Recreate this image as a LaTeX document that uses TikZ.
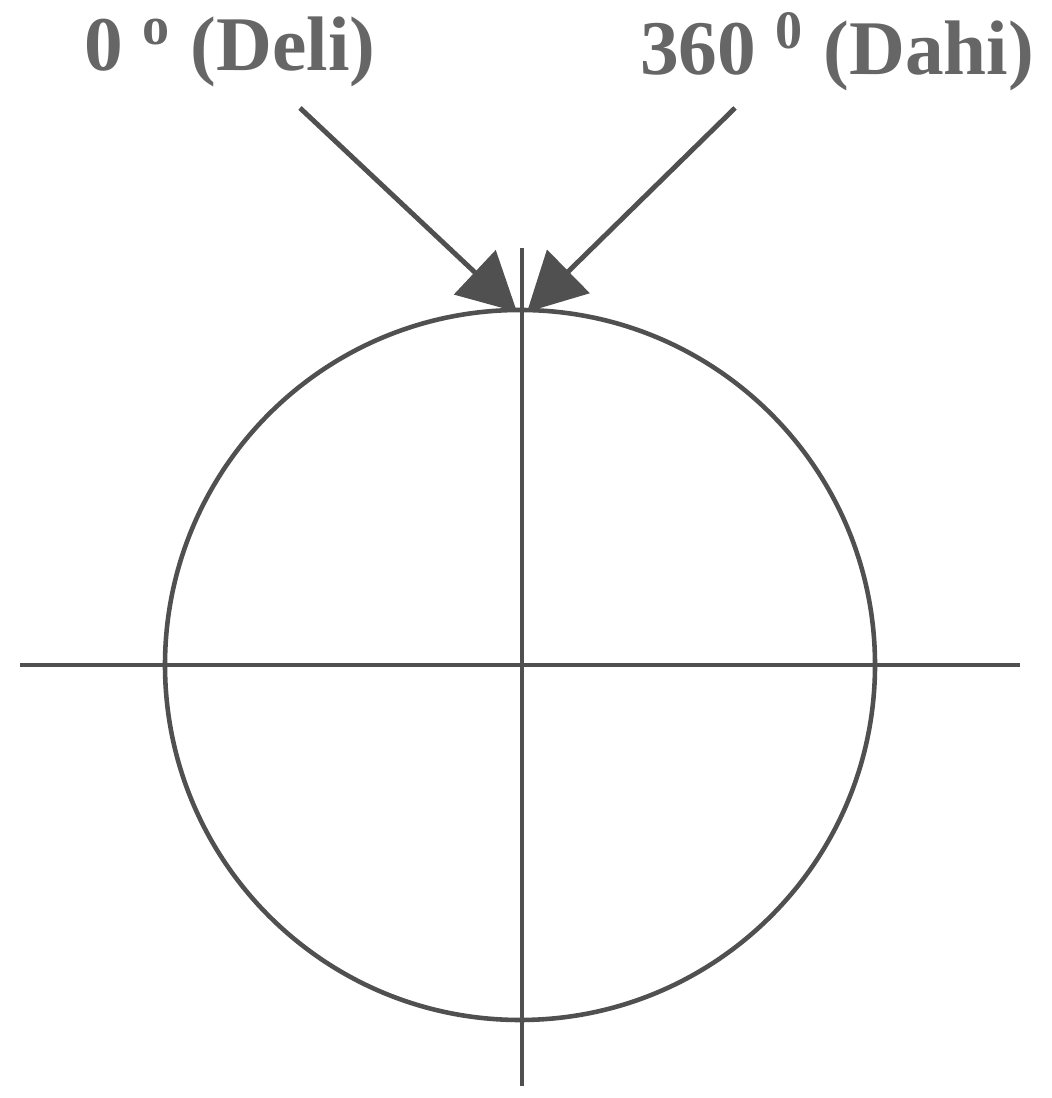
\documentclass[tikz,border=0pt]{standalone}
\usepackage{fontspec}
\setmainfont{Liberation Serif}
\usepackage{tikz}
\usetikzlibrary{arrows.meta, positioning}
\definecolor{inkgray}{HTML}{505050}
\definecolor{textgray}{HTML}{666666}
\tikzstyle{axis} = [line width=1.3pt, draw=inkgray]
\tikzstyle{label} = [font=\fontsize{22}{26}\selectfont\bfseries, text=textgray, inner sep=0pt]
\tikzstyle{arrow} = [line width=1.4pt, draw=inkgray, fill=inkgray, -{Triangle[length=5.8mm, width=6mm]}]

\begin{document}
\begin{tikzpicture}
\useasboundingbox (0,0) rectangle (10.51,10.98);

\coordinate (center) at (5.20,4.33);

% circle and axes
\draw [axis] (center) circle (3.55);
\coordinate (west) at (0.20,4.33);
\coordinate (east) at (10.20,4.33);
\coordinate (north) at (5.22,8.50);
\coordinate (south) at (5.22,0.12);
\draw [axis] (west) -- (east);
\draw [axis] (north) -- (south);

% labels
\node (deli) [label] at (2.30,10.46) {0 \textsuperscript{o} (Deli)};
\node (dahi) [label] at (8.37,10.46) {360 \textsuperscript{0} (Dahi)};

\coordinate (deliStart) at (3.00,9.90);
\coordinate (dahiStart) at (7.35,9.90);
\coordinate (deliTip) at (5.17,7.86);
\coordinate (dahiTip) at (5.27,7.86);

\draw [arrow] (deliStart) -- (deliTip);
\draw [arrow] (dahiStart) -- (dahiTip);

\end{tikzpicture}
\end{document}
